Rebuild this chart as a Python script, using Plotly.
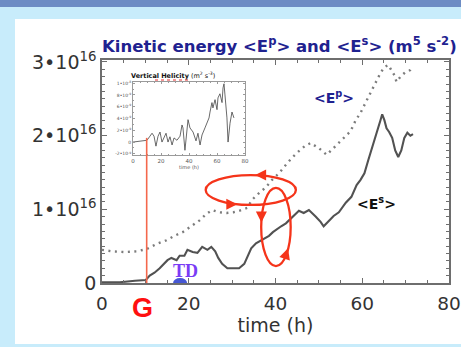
import plotly.graph_objects as go

W, H = 461, 347

# ---------------- data ----------------
# <E^s> : solid line (m^5 s^-2)
t_es = [0, 4.1, 7.6, 10.1, 11, 12.1, 13.3, 14.4, 15.1, 16, 17.2, 17.9, 19, 19.7, 20.9, 22,
        23.1, 24.3, 25.2, 26.1, 26.8, 27.7, 28.9, 30, 31.6, 32.8, 33.5, 34.4, 35.5, 36.7,
        37.6, 38.5, 39.4, 40.3, 41.3, 42.4, 43.1, 44.2, 45.4, 46.5, 47.7, 49.3, 50.4, 51.1,
        52.3, 53.4, 54.6, 56.2, 57.5, 58.7, 59.6, 60.5, 61.4, 62.1, 62.8, 63.5, 64.2, 64.6,
        65.1, 65.6, 66.2, 66.9, 67.6, 68.3, 69, 69.7, 70.4, 71.1, 71.7]
e_s = [0.01e16, 0.01e16, 0.03e16, 0.04e16, 0.10e16, 0.14e16, 0.20e16, 0.27e16, 0.31e16,
       0.34e16, 0.31e16, 0.37e16, 0.37e16, 0.45e16, 0.42e16, 0.41e16, 0.49e16, 0.45e16,
       0.49e16, 0.43e16, 0.34e16, 0.26e16, 0.20e16, 0.20e16, 0.20e16, 0.26e16, 0.35e16,
       0.47e16, 0.54e16, 0.58e16, 0.62e16, 0.64e16, 0.69e16, 0.73e16, 0.77e16, 0.81e16,
       0.85e16, 0.92e16, 0.98e16, 0.95e16, 0.99e16, 0.90e16, 0.83e16, 0.77e16, 0.85e16,
       0.91e16, 0.96e16, 1.09e16, 1.17e16, 1.33e16, 1.40e16, 1.49e16, 1.67e16, 1.80e16,
       1.94e16, 2.05e16, 2.21e16, 2.29e16, 2.21e16, 2.10e16, 2.05e16, 1.97e16, 1.80e16,
       1.71e16, 1.80e16, 1.97e16, 2.04e16, 2.00e16, 2.02e16]

# <E^p> : dotted line (m^5 s^-2)
t_ep = [0, 2.3, 5.3, 8, 10.3, 12.6, 14.9, 16.7, 18.6, 20.6, 22.5, 24.1, 25.4, 27, 28.7, 30.3,
        31.6, 33.5, 34.6, 36.2, 37.8, 39.2, 40.8, 42.2, 43.8, 45.4, 46.8, 48.1, 50, 51.8,
        53.9, 55.7, 57.3, 58.5, 59.6, 60.7, 61.7, 63, 64.2, 65.1, 66, 66.7, 67.4, 67.9,
        68.8, 69.9, 71.1, 71.7]
e_p = [0.45e16, 0.43e16, 0.42e16, 0.43e16, 0.46e16, 0.53e16, 0.58e16, 0.64e16, 0.69e16,
       0.77e16, 0.85e16, 0.94e16, 0.99e16, 0.96e16, 0.95e16, 0.96e16, 0.98e16, 1.02e16,
       1.13e16, 1.22e16, 1.30e16, 1.40e16, 1.49e16, 1.59e16, 1.70e16, 1.79e16, 1.86e16,
       1.90e16, 1.83e16, 1.74e16, 1.86e16, 1.97e16, 2.06e16, 2.21e16, 2.31e16, 2.44e16,
       2.55e16, 2.71e16, 2.85e16, 2.93e16, 2.96e16, 2.89e16, 2.82e16, 2.73e16, 2.80e16,
       2.86e16, 2.89e16, 2.93e16]

# inset: vertical helicity (arbitrary units of the inset axis)
t_hel = [0, 8.6, 10, 12.1, 13.6, 15, 16.4, 17.9, 19.3, 20.7, 22.1, 23.6, 25, 26.4, 27.9,
         29.3, 31.4, 33.6, 35, 35.7, 37.1, 38.6, 39.3, 40.7, 42.9, 45, 46.4, 47.9, 49.3,
         51.4, 52.9, 54.3, 55, 56.4, 57.1, 58.6, 60, 60.7, 62.1, 63.6, 64.3, 65, 65.7, 67.1,
         67.9, 69.3, 70.7, 72.1]
helicity = [0, 0.2, 0.3, 1.0, 1.5, 1.0, -0.7, 1.0, 1.7, 0, 0.9, 1.5, 0, 0.9, -0.5, 0.7, 0.3,
            1.0, 2.9, 2.4, -1.4, 1.9, 3.8, 2.4, 1.7, 0.2, 1.5, -0.5, 1.2, 2.4, 3.4, 4.1, 5.1,
            6.7, 5.8, 7.2, 5.5, 7.5, 8.2, 6.7, 9.2, 9.9, 8.0, 4.1, 0, 3.2, 5.1, 4.1]

x_ticks = [0, 20, 40, 60, 80]
y_ticks = [0, 1e16, 2e16, 3e16]
y_ticktext = ["0", "1•10<sup>16</sup>", "2•10<sup>16</sup>", "3•10<sup>16</sup>"]
inset_yticks = [-2, 0, 2, 4, 6, 8, 10]
inset_ytext = ["-2•10<sup>-9</sup>", "0", "2•10<sup>-9</sup>", "4•10<sup>-9</sup>",
               "6•10<sup>-9</sup>", "8•10<sup>-9</sup>", "1•10<sup>-8</sup>"]

G_TIME = 10.3        # genesis time (h)
G_LINE_TOP = 1.97e16
TD_TIME = 18.0       # tropical depression time (h)

# ---------------- figure ----------------
def px_x(p):
    return p / W

def px_y(p):
    return 1 - p / H

fig = go.Figure()
fig.add_trace(go.Scatter(x=t_ep, y=e_p, mode="lines",
                         line=dict(color="#7c7c7c", width=2.4, dash="2px,4.5px"),
                         xaxis="x", yaxis="y", showlegend=False))
fig.add_trace(go.Scatter(x=t_es, y=e_s, mode="lines",
                         line=dict(color="#525252", width=2.1),
                         xaxis="x", yaxis="y", showlegend=False))
fig.add_trace(go.Scatter(x=t_hel, y=helicity, mode="lines",
                         line=dict(color="#444444", width=0.8),
                         xaxis="x2", yaxis="y2", showlegend=False))

axcol = "#6e6e6e"
fig.update_layout(
    width=W, height=H, margin=dict(l=0, r=0, t=0, b=0),
    paper_bgcolor="#c8ecfb", plot_bgcolor="white",
    xaxis=dict(domain=[px_x(102), px_x(449)], range=[0, 80], anchor="y",
               showline=True, mirror="allticks", linecolor=axcol, linewidth=1.5,
               ticks="inside", ticklen=5, tickwidth=1.2, tickcolor=axcol,
               tickvals=x_ticks, showgrid=False, zeroline=False,
               tickfont=dict(family="DejaVu Sans", size=18.5, color="#333333"),
               ticklabelstandoff=3, ticklabeloverflow="allow",
               minor=dict(ticks="inside", dtick=5, ticklen=3, tickwidth=1, tickcolor=axcol),
               title=dict(text="time (h)", font=dict(family="DejaVu Sans", size=19, color="#333333"),
                          standoff=3),
               automargin=False),
    yaxis=dict(domain=[px_y(283), px_y(60)], range=[0, 3.027e16], anchor="x",
               showline=True, mirror="allticks", linecolor=axcol, linewidth=1.5,
               ticks="inside", ticklen=5, tickwidth=1.2, tickcolor=axcol,
               tickvals=y_ticks, ticktext=y_ticktext, showgrid=False, zeroline=False,
               tickfont=dict(family="DejaVu Sans", size=19, color="#333333"),
               ticklabeloverflow="allow",
               minor=dict(ticks="inside", dtick=0.1e16, ticklen=3, tickwidth=1, tickcolor=axcol),
               automargin=False),
    xaxis2=dict(domain=[px_x(133), px_x(245)], range=[0, 80], anchor="y2",
                showline=True, mirror="allticks", linecolor="#9a9a9a", linewidth=0.8,
                ticks="inside", ticklen=2, tickwidth=0.6, tickcolor="#9a9a9a",
                tickvals=x_ticks, showgrid=False, zeroline=False,
                tickfont=dict(family="DejaVu Sans", size=5.5, color="#555555"),
                minor=dict(ticks="inside", dtick=5, ticklen=1, tickwidth=0.5, tickcolor="#9a9a9a"),
                title=dict(text="time (h)", font=dict(family="DejaVu Sans", size=5, color="#555555"),
                           standoff=1),
                automargin=False),
    yaxis2=dict(domain=[px_y(155), px_y(82)], range=[-2.2, 10.2], anchor="x2",
                showline=True, mirror="allticks", linecolor="#9a9a9a", linewidth=0.8,
                ticks="inside", ticklen=2, tickwidth=0.6, tickcolor="#9a9a9a",
                tickvals=inset_yticks, ticktext=inset_ytext, showgrid=False, zeroline=False,
                tickfont=dict(family="DejaVu Sans", size=4.5, color="#555555"),
                minor=dict(ticks="inside", dtick=1, ticklen=1, tickwidth=0.5, tickcolor="#9a9a9a"),
                automargin=False),
)

red = "#f5341a"
shapes = [
    # page decoration
    dict(type="rect", xref="paper", yref="paper", x0=px_x(15), x1=1.01, y0=px_y(344), y1=px_y(19),
         fillcolor="white", line=dict(width=0), layer="below"),
    dict(type="rect", xref="paper", yref="paper", x0=0, x1=1, y0=px_y(7), y1=1.01,
         fillcolor="#6d8cc4", line=dict(width=0), layer="below"),
    # genesis line
    dict(type="line", xref="x", yref="y", x0=G_TIME, x1=G_TIME, y0=0, y1=G_LINE_TOP,
         line=dict(color="#f4684c", width=1.6)),
    # circulation ellipses
    dict(type="circle", xref="x", yref="y", x0=23.9, x1=44.7, y0=1.06e16, y1=1.465e16,
         line=dict(color=red, width=2.3)),
    dict(type="circle", xref="x", yref="y", x0=36.7, x1=43.5, y0=0.23e16, y1=1.29e16,
         line=dict(color=red, width=2.3)),
    # TD marker
    dict(type="circle", xref="x", yref="y", xsizemode="pixel", ysizemode="pixel",
         xanchor=TD_TIME, yanchor=0, x0=-7, x1=7, y0=-5, y1=5,
         fillcolor="#4657d4", line=dict(width=0)),
    # spell-check squiggle under "Helicity"
    dict(type="line", xref="paper", yref="paper", x0=px_x(155), x1=px_x(189),
         y0=px_y(80), y1=px_y(80), line=dict(color="#e83030", width=1, dash="dot")),
]
fig.update_layout(shapes=shapes)

ann = [
    dict(text="Kinetic energy &lt;E<sup>p</sup>&gt; and &lt;E<sup>s</sup>&gt; (m<sup>5</sup> s<sup>-2</sup>)",
         xref="paper", yref="paper", x=px_x(100), y=px_y(45), xanchor="left", yanchor="middle",
         showarrow=False, font=dict(family="DejaVu Sans", size=16.5, color="#1f2290", weight="bold")),
    dict(text="<b>Vertical</b> <b>Helicity</b> (m<sup>2</sup> s<sup>-3</sup>)",
         xref="paper", yref="paper", x=px_x(129), y=px_y(75), xanchor="left", yanchor="middle",
         showarrow=False, font=dict(family="DejaVu Sans", size=6.5, color="#111111")),
    dict(text="&lt;E<sup>p</sup>&gt;", xref="x", yref="y", x=53.4, y=2.52e16,
         xanchor="center", yanchor="middle",
         showarrow=False, font=dict(family="DejaVu Sans", size=14, color="#1f2290", weight="bold")),
    dict(text="&lt;E<sup>s</sup>&gt;", xref="x", yref="y", x=63.2, y=1.09e16,
         xanchor="center", yanchor="middle",
         showarrow=False, font=dict(family="DejaVu Sans", size=14, color="#111111", weight="bold")),
    dict(text="G", xref="paper", yref="paper", x=px_x(142.5), y=px_y(308),
         xanchor="center", yanchor="middle",
         showarrow=False, font=dict(family="Liberation Sans", size=27, color="#ff1010", weight="bold")),
    dict(text="TD", xref="paper", yref="paper", x=px_x(185), y=px_y(271),
         xanchor="center", yanchor="middle",
         showarrow=False, font=dict(family="Liberation Serif", size=18, color="#7a3cf5", weight="bold")),
]
# arrowheads on the ellipses (head position, tail offset in px)
for (ax_t, ay_v, dx, dy) in [(35.3, 1.465e16, 9, 0), (31.2, 1.068e16, -9, 0),
                             (36.75, 0.82e16, 0, -9), (42.9, 0.47e16, -3, 9)]:
    ann.append(dict(text="", xref="x", yref="y", x=ax_t, y=ay_v, ax=dx, ay=dy,
                    showarrow=True, arrowhead=2, arrowsize=1.1, arrowwidth=2, arrowcolor=red,
                    standoff=0, startstandoff=0))
fig.update_layout(annotations=ann)

fig.write_html("out.html")
